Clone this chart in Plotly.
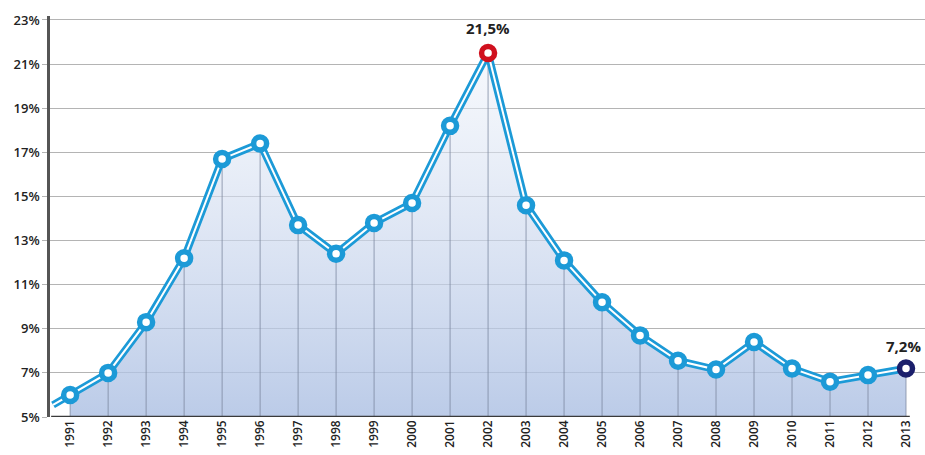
import plotly.graph_objects as go

# Annual rate, 1991-2013
years = list(range(1991, 2014))
rates = [6.0, 7.0, 9.3, 12.2, 16.7, 17.4, 13.7, 12.4, 13.8, 14.7, 18.2, 21.5,
         14.6, 12.1, 10.2, 8.7, 7.55, 7.15, 8.4, 7.2, 6.6, 6.9, 7.2]

# line continues in from before the first year
lead_in_year = 1990.55
lead_in_rate = 5.55

y_ticks = [5, 7, 9, 11, 13, 15, 17, 19, 21, 23]
y_tick_labels = [f"{v}%" for v in y_ticks]

peak_year = 2002
last_year = 2013

y_min, y_max = 5, 23.18

LINE_BLUE = "#1c9ad7"
PEAK_RED = "#d0101e"
LAST_NAVY = "#1b1f6b"

fig = go.Figure()

# shaded area under the curve
fig.add_trace(go.Scatter(
    x=years, y=rates, mode="none", fill="tozeroy",
    fillgradient=dict(type="vertical",
                      colorscale=[[0, "rgba(170,190,226,0.80)"],
                                  [1, "rgba(238,242,250,0.50)"]],
                      start=y_min, stop=max(rates)),
    hoverinfo="skip", showlegend=False,
))

# vertical drop lines from the baseline to each point
vx, vy = [], []
for yr, r in zip(years, rates):
    vx += [yr, yr, None]
    vy += [y_min, r, None]
fig.add_trace(go.Scatter(x=vx, y=vy, mode="lines",
                         line=dict(color="rgba(120,132,156,0.75)", width=1),
                         hoverinfo="skip", showlegend=False))

line_x = [lead_in_year] + years
line_y = [lead_in_rate] + rates

# double line: thick blue with a white core
fig.add_trace(go.Scatter(x=line_x, y=line_y, mode="lines",
                         line=dict(color=LINE_BLUE, width=7.5),
                         hoverinfo="skip", showlegend=False))
fig.add_trace(go.Scatter(x=line_x, y=line_y, mode="lines",
                         line=dict(color="white", width=2),
                         hoverinfo="skip", showlegend=False))

ring_colors = []
for yr in years:
    if yr == peak_year:
        ring_colors.append(PEAK_RED)
    elif yr == last_year:
        ring_colors.append(LAST_NAVY)
    else:
        ring_colors.append(LINE_BLUE)

fig.add_trace(go.Scatter(
    x=years, y=rates, mode="markers",
    marker=dict(symbol="circle", size=13, color="white",
                line=dict(color=ring_colors, width=5.5)),
    showlegend=False,
))

def fmt(v):
    return f"{v:.1f}%".replace(".", ",")

peak_val = rates[years.index(peak_year)]
last_val = rates[years.index(last_year)]
fig.add_annotation(x=peak_year, y=peak_val, text=fmt(peak_val),
                   showarrow=False, yshift=25,
                   font=dict(size=15, color="#222222", family="Open Sans", weight=700))
fig.add_annotation(x=last_year, y=last_val, text=fmt(last_val),
                   showarrow=False, yshift=22, xshift=-3,
                   font=dict(size=15, color="#222222", family="Open Sans", weight=700))

# baseline
fig.add_shape(type="line", xref="x", yref="y",
              x0=lead_in_year - 0.05, x1=last_year + 0.1, y0=y_min, y1=y_min,
              line=dict(color="#3a3a3a", width=2.5), layer="above")

fig.update_layout(
    width=925, height=455,
    margin=dict(l=50, r=0, t=16, b=38),
    paper_bgcolor="white", plot_bgcolor="white",
    font=dict(family="Open Sans", color="#222222"),
)
fig.update_xaxes(
    range=[1990.47, 2013.5],
    tickmode="array", tickvals=years, ticktext=[str(y) for y in years],
    tickangle=-90, showgrid=False, zeroline=False,
    tickfont=dict(size=12, family="Open Sans", weight=600, color="#222222"),
    ticks="", showline=False,
)
fig.update_yaxes(
    range=[y_min, y_max],
    tickmode="array", tickvals=y_ticks, ticktext=y_tick_labels,
    showgrid=True, gridcolor="#b4b4b4", gridwidth=1,
    zeroline=False,
    showline=True, linecolor="#555555", linewidth=2.5,
    ticks="outside", ticklen=5, tickcolor="#b4b4b4", tickwidth=1,
    tickfont=dict(size=13, family="Open Sans", weight=600, color="#222222"),
)

fig.write_html("out.html")
